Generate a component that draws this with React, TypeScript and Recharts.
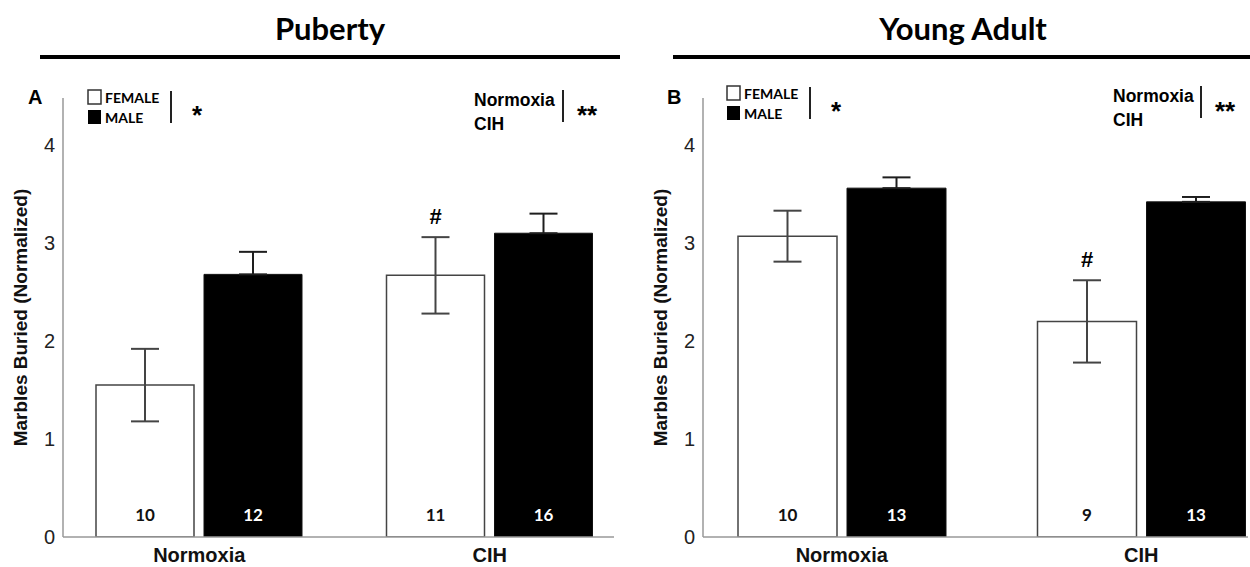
import { BarChart, Bar, XAxis, YAxis, ErrorBar, LabelList, Label } from "recharts";

// marble burying, normalized; female vs male per condition
const categories = ["Normoxia", "CIH"];
const yTicks = [0, 1, 2, 3, 4];

const pubertyFemale = [1.55, 2.67];
const pubertyFemaleErr = [0.37, 0.39];
const pubertyMale = [2.68, 3.1];
const pubertyMaleErr = [0.23, 0.2];
const pubertyFemaleN = [10, 11];
const pubertyMaleN = [12, 16];
const pubertyMarks = ["", "#"];

const adultFemale = [3.07, 2.2];
const adultFemaleErr = [0.26, 0.42];
const adultMale = [3.56, 3.42];
const adultMaleErr = [0.11, 0.05];
const adultFemaleN = [10, 9];
const adultMaleN = [13, 13];
const adultMarks = ["", "#"];

const ARIAL = "'Liberation Sans', Arial, sans-serif";
const CAL = "Lato, 'Open Sans', sans-serif";

function build(f: number[], fe: number[], m: number[], me: number[], fn: number[], mn: number[], marks: string[]) {
  return categories.map((cat, i) => ({
    cat, female: f[i], femaleErr: fe[i], male: m[i],
    // lower half is hidden inside the black bar in the original, so only draw the upper part
    maleErr: [0, me[i]],
    femaleN: fn[i], maleN: mn[i], mark: marks[i],
  }));
}

const nLabel = (color: string) => (p: any) => {
  const { x, y, width, height, value } = p;
  return (
    <text x={x + width / 2} y={y + height - 20} fill={color} textAnchor="middle" dominantBaseline="middle"
      style={{ fontFamily: CAL, fontWeight: 700, fontSize: 17 }}>{value}</text>
  );
};

function Panel({ data, left, width, padding, barSize }: any) {
  // mark label sits above the error bar top, using the bar's own px/unit
  const markLabel = (p: any) => {
    const { x, y, width: w, height, value, index } = p;
    if (!value) return null;
    const d = data[index];
    const ppu = height / d.female;
    return (
      <text x={x + w / 2} y={y - d.femaleErr * ppu - 19} textAnchor="middle" dominantBaseline="middle"
        style={{ fontFamily: ARIAL, fontWeight: 700, fontSize: 22 }}>{value}</text>
    );
  };
  return (
    <div style={{ position: "absolute", left, top: 0 }}>
      <BarChart width={width} height={567} data={data} margin={{ top: 98, right: width === 640 ? 26 : 2, bottom: 0, left: 0 }}
        barGap={10} barSize={barSize}>
        <XAxis dataKey="cat" height={30} tickLine={false} axisLine={{ stroke: "#999", strokeWidth: 1.5 }}
          padding={padding} tickMargin={5}
          tick={{ fill: "#111", fontSize: 20, fontWeight: 700, fontFamily: ARIAL }} />
        <YAxis type="number" width={63} domain={[0, 4.48]} ticks={yTicks} allowDataOverflow tickLine={false}
          axisLine={{ stroke: "#999", strokeWidth: 1.5 }} tick={{ fill: "#222", fontSize: 20, fontFamily: ARIAL }}>
          <Label value="Marbles Buried (Normalized)" angle={-90} position="insideLeft" offset={20}
            style={{ textAnchor: "middle", fontFamily: ARIAL, fontWeight: 700, fontSize: 19, fill: "#111" }} />
        </YAxis>
        <Bar dataKey="female" fill="#fff" stroke="#444" strokeWidth={1.5} isAnimationActive={false}>
          <ErrorBar dataKey="femaleErr" width={14} stroke="#444" strokeWidth={2} />
          <LabelList dataKey="femaleN" content={nLabel("#111")} />
          <LabelList dataKey="mark" content={markLabel} />
        </Bar>
        <Bar dataKey="male" fill="#000" stroke="#111" strokeWidth={1} isAnimationActive={false}>
          <ErrorBar dataKey="maleErr" width={14} stroke="#1e1e1e" strokeWidth={2} />
          <LabelList dataKey="maleN" content={nLabel("#fff")} />
        </Bar>
      </BarChart>
    </div>
  );
}

function Legends({ dx, dy, sexLineX, starX, condX, condLineX, starsX }: any) {
  return (
    <g transform={`translate(0, ${dy})`}>
      <rect x={dx} y={90} width={13} height={14} fill="#fff" stroke="#333" strokeWidth={1.5} />
      <text x={dx + 17} y={103} style={{ fontFamily: CAL, fontWeight: 700, fontSize: 14 }}>FEMALE</text>
      <rect x={dx} y={110} width={13} height={14} fill="#000" />
      <text x={dx + 17} y={123} style={{ fontFamily: CAL, fontWeight: 700, fontSize: 14 }}>MALE</text>
      <line x1={sexLineX} x2={sexLineX} y1={91} y2={123} stroke="#222" strokeWidth={2} />
      <text x={starX} y={124} style={{ fontFamily: ARIAL, fontWeight: 700, fontSize: 26 }}>*</text>
      <text x={condX} y={106} style={{ fontFamily: ARIAL, fontWeight: 700, fontSize: 17.5 }}>Normoxia</text>
      <text x={condX} y={130} style={{ fontFamily: ARIAL, fontWeight: 700, fontSize: 17.5 }}>CIH</text>
      <line x1={condLineX} x2={condLineX} y1={90} y2={122} stroke="#222" strokeWidth={2} />
      <text x={starsX} y={124} style={{ fontFamily: ARIAL, fontWeight: 700, fontSize: 26 }}>**</text>
    </g>
  );
}

export default function App() {
  const puberty = build(pubertyFemale, pubertyFemaleErr, pubertyMale, pubertyMaleErr, pubertyFemaleN, pubertyMaleN, pubertyMarks);
  const adult = build(adultFemale, adultFemaleErr, adultMale, adultMaleErr, adultFemaleN, adultMaleN, adultMarks);
  return (
    <div style={{ position: "absolute", left: 0, top: 0, width: 1250, height: 567, background: "#fff", overflow: "hidden" }}>
      <Panel data={puberty} left={0} width={640} padding={{ left: -9, right: -21 }} barSize={98} />
      <Panel data={adult} left={640} width={610} padding={{ left: -11, right: -43 }} barSize={99} />
      <svg width={1250} height={567} style={{ position: "absolute", left: 0, top: 0, pointerEvents: "none" }}>
        <text x={330} y={40} textAnchor="middle" style={{ fontFamily: CAL, fontWeight: 700, fontSize: 31 }}>Puberty</text>
        <text x={963} y={40} textAnchor="middle" style={{ fontFamily: CAL, fontWeight: 700, fontSize: 31 }}>Young Adult</text>
        <line x1={40} x2={620} y1={57} y2={57} stroke="#000" strokeWidth={4} />
        <line x1={673} x2={1250} y1={57} y2={57} stroke="#000" strokeWidth={4} />
        <text x={28} y={104} style={{ fontFamily: ARIAL, fontWeight: 700, fontSize: 20 }}>A</text>
        <text x={667} y={104} style={{ fontFamily: ARIAL, fontWeight: 700, fontSize: 20 }}>B</text>
        <Legends dx={88} dy={0} sexLineX={171} starX={192} condX={474} condLineX={563} starsX={577} />
        <Legends dx={727} dy={-4} sexLineX={810} starX={831} condX={1113} condLineX={1201} starsX={1215} />
      </svg>
    </div>
  );
}
